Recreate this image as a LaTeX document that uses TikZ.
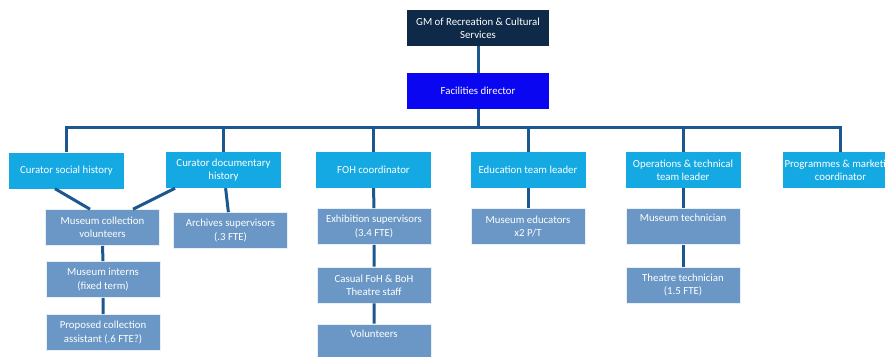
\documentclass[tikz,border=0pt]{standalone}
\usepackage{fontspec}
\setmainfont{Carlito}
\usepackage{tikz}
\usepackage{color}
\definecolor{gmnavy}{HTML}{0E2A48}
\definecolor{fdblue}{HTML}{0A06F2}
\definecolor{leadblue}{HTML}{14A9E2}
\definecolor{staffblue}{HTML}{6A97C5}
\definecolor{linkblue}{HTML}{1D5790}

\begin{document}
\begin{tikzpicture}[x=1pt, y=-1pt,
	box/.style={rectangle, text=white, align=center, inner sep=1pt, font=\fontsize{10.8}{13.3}\selectfont},
	topbox/.style={box, fill=gmnavy, minimum width=142pt, minimum height=36pt},
	headbox/.style={box, fill=fdblue, minimum width=142pt, minimum height=36pt},
	leadbox/.style={box, fill=leadblue, minimum width=115pt, minimum height=36pt},
	staffbox/.style={box, fill=staffblue, draw=white!85!staffblue, line width=0.6pt, minimum width=114pt, minimum height=36pt},
	link/.style={draw=linkblue, line width=3pt}]
	
	\useasboundingbox (0,0) rectangle (885,356);
	\clip (0,0) rectangle (885,356);
	
	\node [topbox] (gm) at (478,28) {GM of Recreation \& Cultural\\Services};
	\node [headbox] (fd) at (478,91) {Facilities director};
	
	\node [leadbox] (csh) at (66.5,170.5) {Curator social history};
	\node [leadbox] (cdh) at (223.5,170) {Curator documentary\\history};
	\node [leadbox] (foh) at (373.5,170) {FOH coordinator};
	\node [leadbox] (etl) at (528,170) {Education team leader};
	\node [leadbox] (otl) at (683,170) {Operations \& technical\\team leader};
	\node [leadbox] (pmc) at (840.5,170) {Programmes \& marketing\\coordinator};
	
	\node [staffbox] (mcv) at (102.5,227.5) {Museum collection\\volunteers};
	\node [staffbox] (mi) at (103,279.5) {Museum interns\\(fixed term)};
	\node [staffbox] (pca) at (103,332.5) {Proposed collection\\assistant (.6 FTE?)};
	\node [staffbox] (as) at (230.5,230.5) {Archives supervisors\\(.3 FTE)};
	\node [staffbox] (es) at (374,226.5) {Exhibition supervisors\\(3.4 FTE)};
	\node [staffbox] (cas) at (374,285) {Casual FoH \& BoH\\Theatre staff};
	\node [staffbox] (vol) at (374,342) {Volunteers\\\strut};
	\node [staffbox] (me) at (528,226.5) {Museum educators\\x2 P/T};
	\node [staffbox] (mt) at (683,226.5) {Museum technician\\\strut};
	\node [staffbox] (tt) at (683,285) {Theatre technician\\(1.5 FTE)};
	
	% reporting lines
	\coordinate (bus) at (478,127);
	\draw [link] (gm) -- (fd);
	\foreach \n in {csh,cdh,foh,etl,otl,pmc}
		\draw [link] (fd.south) -- (bus) -| (\n.north);
	\draw [link] ([xshift=-11.5pt]csh.south) -- ([xshift=-12.5pt]mcv.north);
	\draw [link] ([xshift=-48.5pt]cdh.south) -- ([xshift=30.5pt]mcv.north);
	\draw [link] (mcv) -- (mi) -- (pca);
	\draw [link] (cdh) -- (as);
	\draw [link] (foh) -- (es) -- (cas) -- (vol);
	\draw [link] (etl) -- (me);
	\draw [link] (otl) -- (mt) -- (tt);
	
\end{tikzpicture}
\end{document}
